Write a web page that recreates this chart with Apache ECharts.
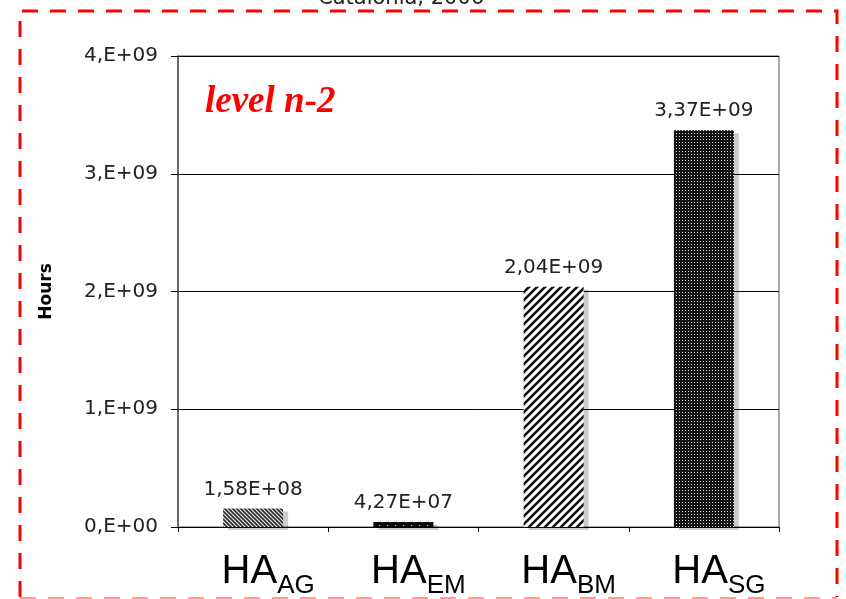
<!DOCTYPE html>
<html>
<head>
<meta charset="utf-8">
<script src="https://cdn.jsdelivr.net/npm/echarts@6/dist/echarts.min.js"></script>
<style>
  html, body { margin: 0; padding: 0; background: #fff; }
  #chart { width: 846px; height: 599px; }
</style>
</head>
<body>
<div id="chart"></div>
<script>
// ---- data ----
const categoryPrefix = 'HA';
const categories = ['AG', 'EM', 'BM', 'SG'];
const hours = [1.58e8, 4.27e7, 2.04e9, 3.37e9];
const yTicks = [0, 1e9, 2e9, 3e9, 4e9];
const chartTitle = 'Catalonia, 2006';
const levelText = 'level n-2';
const yAxisName = 'Hours';

// ---- patterns ----
function makePattern(w, h, draw) {
  const c = document.createElement('canvas');
  c.width = w; c.height = h;
  const ctx = c.getContext('2d');
  draw(ctx, w, h);
  return { image: c, repeat: 'repeat' };
}
const patAG = makePattern(4, 4, (ctx, w, h) => {
  ctx.fillStyle = '#e8e8e8'; ctx.fillRect(0, 0, w, h);
  ctx.strokeStyle = '#2a2a2a'; ctx.lineWidth = 1.6;
  ctx.beginPath();
  ctx.moveTo(-1, -1); ctx.lineTo(w + 1, h + 1);
  ctx.moveTo(-1, h - 1); ctx.lineTo(1, h + 1);
  ctx.moveTo(w - 1, -1); ctx.lineTo(w + 1, 1);
  ctx.stroke();
});
const patBM = makePattern(8, 8, (ctx, w, h) => {
  ctx.fillStyle = '#ffffff'; ctx.fillRect(0, 0, w, h);
  ctx.strokeStyle = '#111'; ctx.lineWidth = 2.6;
  ctx.beginPath();
  ctx.moveTo(-1, h + 1); ctx.lineTo(w + 1, -1);
  ctx.moveTo(-1, 1); ctx.lineTo(1, -1);
  ctx.moveTo(w - 1, h + 1); ctx.lineTo(w + 1, h - 1);
  ctx.stroke();
});
const patEM = makePattern(8, 4, (ctx, w, h) => {
  ctx.fillStyle = '#050505'; ctx.fillRect(0, 0, w, h);
  ctx.fillStyle = '#cfcfcf'; ctx.fillRect(3, 1, 1, 1);
});
const patSG = makePattern(3, 3, (ctx, w, h) => {
  ctx.fillStyle = '#141414'; ctx.fillRect(0, 0, w, h);
  ctx.fillStyle = '#d8d8d8'; ctx.fillRect(1, 1, 1, 1);
});
const patterns = [patAG, patEM, patBM, patSG];

// ---- formatters ----
function sciLabel(v) {
  const s = v.toExponential(2);
  const [m, e] = s.split('e');
  const exp = parseInt(e, 10);
  return m.replace('.', ',') + 'E' + (exp < 0 ? '-' : '+') + String(Math.abs(exp)).padStart(2, '0');
}
function tickLabel(v) {
  if (v === 0) return '0,E+00';
  const exp = Math.floor(Math.log10(v) + 1e-9);
  const m = Math.round(v / Math.pow(10, exp));
  return m + ',E+' + String(exp).padStart(2, '0');
}

const chart = echarts.init(document.getElementById('chart'), null, { renderer: 'canvas' });
const option = {
  backgroundColor: '#ffffff',
  animation: false,
  title: {
    text: chartTitle,
    left: 313,
    top: -17,
    textStyle: { fontFamily: 'DejaVu Sans', fontSize: 21, fontWeight: 'normal', color: '#222' }
  },
  grid: {
    left: 178, right: 67, top: 56, bottom: 71,
    show: true, borderColor: '#555', borderWidth: 1, backgroundColor: '#fff'
  },
  xAxis: {
    type: 'category',
    data: categories,
    axisLine: { show: true, lineStyle: { color: '#000', width: 1 } },
    axisTick: { show: true, length: 5, alignWithLabel: false, lineStyle: { color: '#000' } },
    axisLabel: {
      margin: 25,
      padding: [0, 0, 0, 30],
      formatter: v => '{m|' + categoryPrefix + '}{s|' + v + '}',
      rich: {
        m: { fontFamily: 'Liberation Sans', fontSize: 40, color: '#000', verticalAlign: 'top' },
        s: { fontFamily: 'Liberation Sans', fontSize: 26, color: '#000', verticalAlign: 'top', padding: [21, 0, 0, 0] }
      }
    }
  },
  yAxis: {
    type: 'value',
    min: yTicks[0],
    max: yTicks[yTicks.length - 1],
    interval: yTicks[1] - yTicks[0],
    name: yAxisName,
    nameLocation: 'middle',
    nameGap: 123,
    nameRotate: 90,
    nameTextStyle: { fontFamily: 'DejaVu Sans', fontSize: 17, fontWeight: 'bold', color: '#000' },
    axisLine: { show: true, lineStyle: { color: '#555', width: 1.5 } },
    axisTick: { show: true, inside: false, length: 7, lineStyle: { color: '#000' } },
    axisLabel: {
      margin: 20,
      fontFamily: 'DejaVu Sans', fontSize: 20, color: '#222',
      formatter: tickLabel
    },
    splitLine: { show: true, lineStyle: { color: '#000', width: 1 } }
  },
  series: [{
    type: 'bar',
    barWidth: 60,
    data: hours.map((v, i) => ({ value: v, itemStyle: { color: patterns[i] } })),
    itemStyle: {
      shadowColor: 'rgba(0,0,0,0.2)',
      shadowOffsetX: 5,
      shadowOffsetY: 3,
      shadowBlur: 1
    },
    label: {
      show: true,
      position: 'top',
      distance: 9,
      fontFamily: 'DejaVu Sans', fontSize: 20, color: '#222',
      formatter: p => sciLabel(p.value)
    }
  }],
  graphic: [
    {
      type: 'text', left: 205, top: 84, z: 10,
      style: { text: levelText, fill: '#ff0000', font: 'italic bold 37px "Liberation Serif"' }
    },
    {
      type: 'polyline', z: 20, silent: true,
      shape: { points: [[20, 597], [20, 11], [837, 11], [837, 597]] },
      style: { fill: null, stroke: '#ff0000', lineWidth: 3, lineDash: [16, 12] }
    },
    {
      type: 'line', z: 20, silent: true,
      shape: { x1: 20, y1: 598, x2: 837, y2: 598 },
      style: { stroke: '#ff9a9a', lineWidth: 2, lineDash: [16, 12] }
    }
  ]
};
chart.setOption(option);
</script>
</body>
</html>
